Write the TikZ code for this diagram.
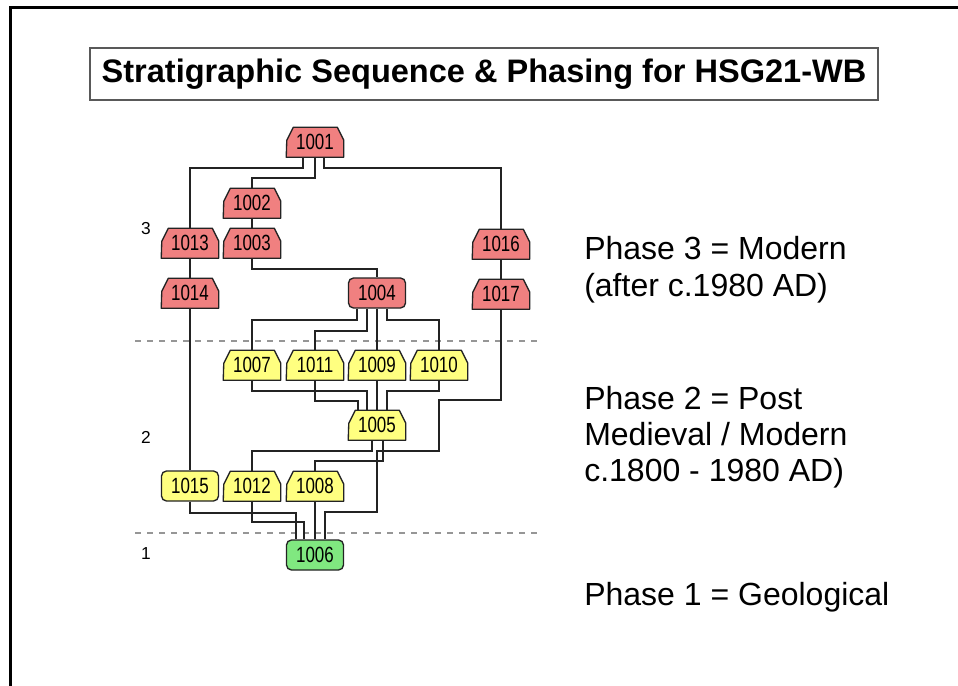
\documentclass[tikz,border=0pt]{standalone}
\usepackage{fontspec}
\setmainfont{Liberation Sans}
\newfontfamily\ctxfont[FakeStretch=0.77]{Liberation Sans}
\usetikzlibrary{calc,backgrounds}

\definecolor{redfill}{RGB}{240,128,128}
\definecolor{yelfill}{RGB}{255,255,128}
\definecolor{grnfill}{RGB}{128,232,128}
\definecolor{edgeclr}{RGB}{35,35,35}
\definecolor{phasegray}{RGB}{150,150,150}

\tikzset{
  ctx/.style={rectangle, minimum width=42.75pt, minimum height=22.5pt,
    inner sep=0pt, font=\ctxfont\fontsize{16.5}{18}\selectfont, text=black},
  rnd/.style={draw=edgeclr, line width=1pt, rounded corners=3.75pt},
  houseline/.style={draw=edgeclr, line width=1pt, line join=round},
  link/.style={draw=edgeclr, line width=1.4pt},
  phaseline/.style={draw=phasegray, line width=1.1pt, dash pattern=on 4.5pt off 4.5pt},
  tier/.style={font=\fontsize{13}{15}\selectfont, inner sep=0pt},
  phasetext/.style={font=\fontsize{24}{28}\selectfont, inner sep=0pt, anchor=base west},
}

\begin{document}
\begin{tikzpicture}[x=0.75pt, y=-0.75pt]
\useasboundingbox (0,0) rectangle (958,686);

% outer frame (top and left edges)
\draw[line width=2.25pt, black] (958,7) -- (10,7) -- (10,686);

% title
\node[draw=gray!70!black, line width=1.1pt, minimum width=591pt, minimum height=39pt,
      inner sep=0pt, font=\bfseries\fontsize{24.4}{28}\selectfont] (title) at (484,74)
      {Stratigraphic Sequence \& Phasing for HSG21-WB};

% phase boundaries
\draw[phaseline] (135,341) -- (537,341);
\draw[phaseline] (135,533) -- (537,533);

% phase numbers
\node[tier] (tier3) at (146,229) {3};
\node[tier] (tier2) at (146,437) {2};
\node[tier] (tier1) at (146,554) {1};

% contexts
\node[ctx] (u1001) at (315,142) {1001};
\node[ctx] (u1002) at (252,203) {1002};
\node[ctx] (u1013) at (190,243) {1013};
\node[ctx] (u1003) at (252,243) {1003};
\node[ctx] (u1014) at (190,293) {1014};
\node[ctx, rnd, fill=redfill] (u1004) at (377,293) {1004};
\node[ctx] (u1016) at (501,244) {1016};
\node[ctx] (u1017) at (501,294) {1017};
\node[ctx] (u1007) at (252,365) {1007};
\node[ctx] (u1011) at (315,365) {1011};
\node[ctx] (u1009) at (377,365) {1009};
\node[ctx] (u1010) at (439,365) {1010};
\node[ctx] (u1005) at (377,425) {1005};
\node[ctx, rnd, fill=yelfill] (u1015) at (190,486) {1015};
\node[ctx] (u1012) at (252,486) {1012};
\node[ctx] (u1008) at (315,486) {1008};
\node[ctx, rnd, fill=grnfill] (u1006) at (315,555) {1006};

% page and house-shaped outlines behind the context numbers
\begin{scope}[on background layer]
\fill[white] (0,0) rectangle (958,686);
\foreach \n/\c in {u1001/redfill, u1002/redfill, u1013/redfill, u1003/redfill,
                   u1014/redfill, u1016/redfill, u1017/redfill,
                   u1007/yelfill, u1011/yelfill, u1009/yelfill, u1010/yelfill,
                   u1005/yelfill, u1012/yelfill, u1008/yelfill}
  \filldraw[houseline, fill=\c] (\n.south west) -- (\n.south east) -- ++(0,-17)
    -- ++(-6.5,-13) -- ++(-44,0) -- ++(-6.5,13) -- cycle;
\end{scope}

% stratigraphic links
\draw[link] ($(u1001.south)+(-12,0)$) -- ++(0,11) -| (u1013.north);
\draw[link] (u1001.south) -- ++(0,21) -| (u1002.north);
\draw[link] ($(u1001.south)+(9,0)$) -- ++(0,11) -| (u1016.north);
\draw[link] (u1002) -- (u1003);
\draw[link] (u1013) -- (u1014);
\draw[link] (u1003.south) -- ++(0,11) -| (u1004.north);
\draw[link] ($(u1004.south)+(-20,0)$) -- ++(0,11) -| (u1007.north);
\draw[link] ($(u1004.south)+(-10,0)$) -- ++(0,22) -| (u1011.north);
\draw[link] (u1004) -- (u1009);
\draw[link] ($(u1004.south)+(10,0)$) -- ++(0,11) -| (u1010.north);
\draw[link] (u1014) -- (u1015);
\draw[link] (u1016) -- (u1017);
\draw[link] (u1007.south) -- ++(0,11) -| ($(u1005.north)+(-10,0)$);
\draw[link] (u1011.south) -- ++(0,21) -| ($(u1005.north)+(-19,0)$);
\draw[link] (u1009) -- (u1005);
\draw[link] (u1010.south) -- ++(0,11) -| ($(u1005.north)+(10,0)$);
\draw[link] ($(u1005.south)+(-5,0)$) -- ++(0,11) -| (u1012.north);
\draw[link] ($(u1005.south)+(6,0)$) -- ++(0,21) -| (u1008.north);
\draw[link] (u1017.south) -- ++(0,91) -| ++(-62,51) -| ++(-62,61) -| ($(u1006.north)+(10,0)$);
\draw[link] (u1015.south) -- ++(0,11) -| ($(u1006.north)+(-19,0)$);
\draw[link] (u1012.south) -- ++(0,21) -| ($(u1006.north)+(-11,0)$);
\draw[link] (u1008) -- (u1006);

% phase descriptions
\node[phasetext] (ph3a) at (584,259) {Phase 3 = Modern};
\node[phasetext] (ph3b) at (584,296) {(after c.1980 AD)};
\node[phasetext] (ph2a) at (584,409) {Phase 2 = Post};
\node[phasetext] (ph2b) at (584,445) {Medieval / Modern};
\node[phasetext] (ph2c) at (584,481) {c.1800 - 1980 AD)};
\node[phasetext] (ph1)  at (584,605) {Phase 1 = Geological};
\end{tikzpicture}
\end{document}
